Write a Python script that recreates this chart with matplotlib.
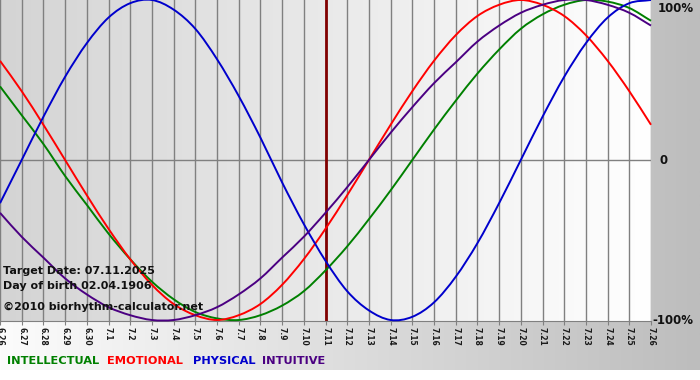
import numpy as np
import matplotlib.pyplot as plt
from matplotlib.colors import LinearSegmentedColormap
from matplotlib.patches import Rectangle, PathPatch
from matplotlib.path import Path

# Days shown on the x axis (month.day)
dates = ['6.26', '6.27', '6.28', '6.29', '6.30',
         '7.1', '7.2', '7.3', '7.4', '7.5', '7.6', '7.7', '7.8', '7.9', '7.10',
         '7.11', '7.12', '7.13', '7.14', '7.15', '7.16', '7.17', '7.18', '7.19',
         '7.20', '7.21', '7.22', '7.23', '7.24', '7.25', '7.26']
target_day = '7.11'

# Cycle values per day (-1 .. 1)
physical = [-0.27, 0.00, 0.27, 0.52, 0.73, 0.89, 0.98, 1.00, 0.94, 0.82, 0.63,
            0.40, 0.14, -0.14, -0.40, -0.63, -0.82, -0.94, -1.00, -0.98, -0.89,
            -0.73, -0.52, -0.27, 0.00, 0.27, 0.52, 0.73, 0.89, 0.98, 1.00]
emotional = [0.62, 0.43, 0.22, 0.00, -0.22, -0.43, -0.62, -0.78, -0.90, -0.97, -1.00,
             -0.97, -0.90, -0.78, -0.62, -0.43, -0.22, 0.00, 0.22, 0.43, 0.62,
             0.78, 0.90, 0.97, 1.00, 0.97, 0.90, 0.78, 0.62, 0.43, 0.22]
intellectual = [0.46, 0.28, 0.10, -0.10, -0.28, -0.46, -0.62, -0.76, -0.87, -0.95, -0.99,
                -1.00, -0.97, -0.91, -0.82, -0.69, -0.54, -0.37, -0.19, 0.00, 0.19,
                0.37, 0.54, 0.69, 0.82, 0.91, 0.97, 1.00, 0.99, 0.95, 0.87]
intuitive = [-0.33, -0.48, -0.61, -0.74, -0.84, -0.92, -0.97, -1.00, -1.00, -0.97, -0.92,
             -0.84, -0.74, -0.61, -0.48, -0.33, -0.17, 0.00, 0.17, 0.33, 0.48,
             0.61, 0.74, 0.84, 0.92, 0.97, 1.00, 1.00, 0.97, 0.92, 0.84]

series = [
    ('INTELLECTUAL', intellectual, '#008000'),
    ('EMOTIONAL', emotional, '#ff0000'),
    ('PHYSICAL', physical, '#0000cc'),
    ('INTUITIVE', intuitive, '#4b0082'),
]


def smooth_path(xs, ys):
    # bezier curve through the points (catmull-rom style control points)
    pts = np.column_stack([xs, ys]).astype(float)
    ext = np.vstack([2 * pts[0] - pts[1], pts, 2 * pts[-1] - pts[-2]])
    verts = [pts[0]]
    codes = [Path.MOVETO]
    for i in range(1, len(ext) - 2):
        p0, p1, p2, p3 = ext[i - 1], ext[i], ext[i + 1], ext[i + 2]
        verts += [p1 + (p2 - p0) / 6, p2 - (p3 - p1) / 6, p2]
        codes += [Path.CURVE4] * 3
    return Path(verts, codes)


W, H = 700, 380
fig = plt.figure(figsize=(W / 100, H / 100), dpi=100)

# outer background: white -> gray from left to right, white strip at the bottom
bg = fig.add_axes([0, 0, 1, 1])
bg.axis('off')
grad = np.linspace(0, 1, 256).reshape(1, -1)
outer_cmap = LinearSegmentedColormap.from_list('outer', ['#fcfcfc', '#bdbdbd'])
bg.imshow(grad, cmap=outer_cmap, aspect='auto', extent=[0, 1, 0, 1])
bg.add_patch(Rectangle((0, 0), 1, 10 / H, color='white', lw=0))
bg.set_xlim(0, 1)
bg.set_ylim(0, 1)

# plot area
ax = fig.add_axes([0, 59 / H, 651 / W, 321 / H])
x = np.arange(len(dates))
inner_cmap = LinearSegmentedColormap.from_list('inner', ['#d4d4d4', '#ffffff'])
ax.imshow(grad, cmap=inner_cmap, aspect='auto',
          extent=[x[0], x[-1], -1.00625, 1], zorder=0)

for xi in x:
    ax.axvline(xi, color='#808080', lw=1, zorder=1)
ax.axhline(0, color='#808080', lw=1, zorder=1)
ax.axvline(dates.index(target_day), color='#800000', lw=2, zorder=2)

for name, vals, col in series:
    ax.add_patch(PathPatch(smooth_path(x, vals), facecolor='none', edgecolor=col,
                           lw=1.4, zorder=3, clip_on=False))

ax.set_xlim(x[0], x[-1])
ax.set_ylim(-1.00625, 1)
ax.set_xticks(x)
ax.set_xticklabels(dates, fontweight='bold')
ax.set_yticks([])
ax.tick_params(axis='x', length=3, color='#808080', labelsize=5.5, pad=1,
               labelrotation=270, labelcolor='#1a1a1a')
for s in ['top', 'left', 'right']:
    ax.spines[s].set_visible(False)
ax.spines['bottom'].set_color('#808080')

# right-hand percentage labels
for txt, px, py in [('100%', 658, 8), ('0', 659, 161), ('-100%', 652, 321)]:
    fig.text(px / W, 1 - py / H, txt, ha='left', va='center',
             fontsize=8.5, fontweight='bold', color='#111111')

# info text inside the plot
for txt, py in [('Target Date: 07.11.2025', 271),
                ('Day of birth 02.04.1906', 286),
                ('\u00a92010 biorhythm-calculator.net', 307)]:
    fig.text(3 / W, 1 - py / H, txt, ha='left', va='center',
             fontsize=8, fontweight='bold', color='#111111', zorder=5)

# legend words
for (name, vals, col), px in zip(series, [7, 107, 193, 262]):
    fig.text(px / W, 1 - 361 / H, name, ha='left', va='center',
             fontsize=8.2, fontweight='bold', color=col)

fig.savefig('out.png', dpi=100)
